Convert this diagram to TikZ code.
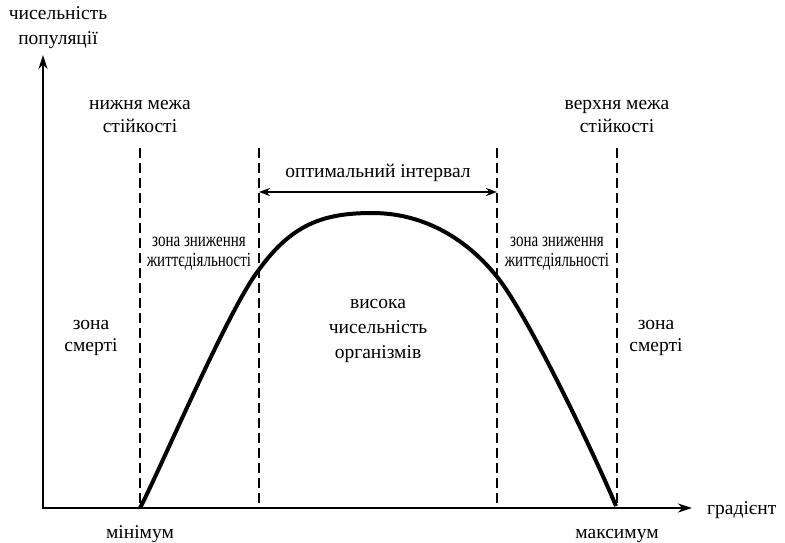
\documentclass[tikz,border=0pt]{standalone}
\usepackage{fontspec}
\setmainfont{Liberation Serif}
\usetikzlibrary{arrows.meta}
\begin{document}
\begin{tikzpicture}[x=1pt,y=-1pt,
  lbl/.style={font=\fontsize{19.5}{22}\selectfont, align=center, inner sep=0pt},
  small/.style={font=\fontsize{20}{20}\selectfont, align=center, inner sep=0pt, xscale=0.75},
  bound/.style={line width=2pt, dash pattern=on 10pt off 5pt},
  axis/.style={line width=2.5pt},
  curve/.style={line width=4pt, line join=round}]
\useasboundingbox (0,0) rectangle (785,542);
% axes
\coordinate (O) at (43,508);
\coordinate (ytip) at (43,55);
\coordinate (xtip) at (692,508);
\draw[axis, {Stealth[length=14pt,width=9pt]}-{Stealth[length=14pt,width=9pt]}] (ytip) |- (xtip);
% boundaries
\foreach \n/\x in {a/140,b/259,c/497,d/617}{
  \coordinate (\n top) at (\x,148);
  \coordinate (\n bot) at (\x,508);
  \draw[bound] (\n top) -- (\n bot);
}
% optimal interval arrow
\coordinate (oL) at (259,192);
\coordinate (oR) at (497,192);
\draw[line width=2pt, {Stealth[length=11pt,width=8pt]}-{Stealth[length=11pt,width=8pt]}] (oL) -- (oR);
% curve
\coordinate (cA) at (140,508);
\coordinate (cB) at (258,271);
\coordinate (cP) at (372,213);
\coordinate (cC) at (498,278);
\coordinate (cD) at (616,506);
\draw[curve] (cA) .. controls (160,470) and (228,310) .. (cB)
  .. controls (291,225) and (322,213) .. (cP)
  .. controls (425,213) and (468,240) .. (cC)
  .. controls (528,316) and (593,451) .. (cD);
% labels
\node[lbl, font=\fontsize{19.5}{25}\selectfont] (ylab) at (58,28) {чисельність\\популяції};
\node[lbl, font=\fontsize{19.5}{23}\selectfont] (low) at (140,116) {нижня межа\\стійкості};
\node[lbl, font=\fontsize{19.5}{23}\selectfont] (high) at (617,116) {верхня межа\\стійкості};
\node[lbl, anchor=base] (opt) at (378,177) {оптимальний інтервал};
\node[small] (zl) at (199,254) {зона зниження\\життєдіяльності};
\node[small] (zr) at (557,254) {зона зниження\\життєдіяльності};
\node[lbl] (dl) at (91,338) {зона\\смерті};
\node[lbl] (dr) at (656,338) {зона\\смерті};
\node[lbl, font=\fontsize{19.5}{25}\selectfont] (hi) at (378,331) {висока\\чисельність\\організмів};
\node[lbl, anchor=base] (min) at (140,538) {мінімум};
\node[lbl, anchor=base] (max) at (617,538) {максимум};
\node[lbl, anchor=base west] (grad) at (707,514) {градієнт};
\end{tikzpicture}
\end{document}
